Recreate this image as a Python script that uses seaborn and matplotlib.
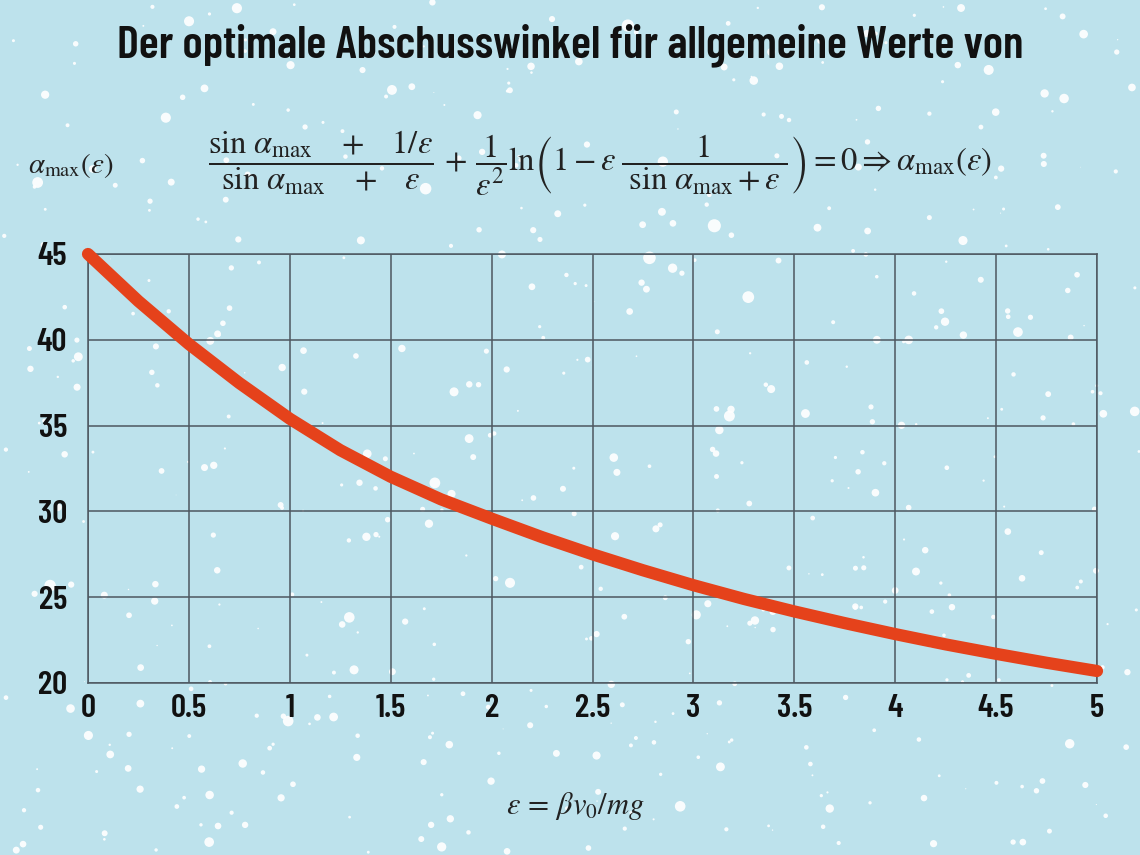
import numpy as np
import pandas as pd
import seaborn as sns
import matplotlib.pyplot as plt

# values
epsilon = [0, 0.25, 0.5, 0.75, 1.0, 1.25, 1.5, 1.75, 2.0, 2.25, 2.5,
           2.75, 3.0, 3.25, 3.5, 3.75, 4.0, 4.25, 4.5, 4.75, 5.0]
alpha_max = [45.0, 42.25, 39.75, 37.48, 35.4, 33.57, 32.02, 30.7, 29.58, 28.5, 27.5,
             26.57, 25.7, 24.9, 24.17, 23.49, 22.85, 22.25, 21.7, 21.18, 20.7]
x_ticks = [0, 0.5, 1, 1.5, 2, 2.5, 3, 3.5, 4, 4.5, 5]
x_tick_labels = ['0', '0.5', '1', '1.5', '2', '2.5', '3', '3.5', '4', '4.5', '5']
y_ticks = [20, 25, 30, 35, 40, 45]

df = pd.DataFrame({'eps': epsilon, 'alpha': alpha_max})

bg = '#bde2ec'
grid_col = '#4d5760'
curve_col = '#e5421b'
cond = ['Barlow Condensed', 'Oswald', 'Open Sans Condensed', 'DejaVu Sans']

sns.set_style('white')
plt.rcParams['mathtext.fontset'] = 'stix'
plt.rcParams['font.family'] = cond

fig = plt.figure(figsize=(11.4, 8.55), dpi=100)
fig.patch.set_facecolor(bg)

# decorative snow backdrop
bg_ax = fig.add_axes([0, 0, 1, 1], zorder=0)
bg_ax.set_facecolor(bg)
bg_ax.set_xlim(0, 1)
bg_ax.set_ylim(0, 1)
bg_ax.axis('off')
rng = np.random.default_rng(7)
n_snow = 560
sx = rng.uniform(0, 1, n_snow)
sy = rng.uniform(0, 1, n_snow)
ss = rng.gamma(1.4, 11.0, n_snow)
bg_ax.scatter(sx, sy, s=ss, color='white', alpha=0.92, linewidths=0)

ax = fig.add_axes([88 / 1140, 1 - 683 / 855, (1097 - 88) / 1140, (683 - 254) / 855], zorder=1)
ax.set_facecolor('none')

sns.lineplot(data=df, x='eps', y='alpha', ax=ax, color=curve_col, linewidth=8.8,
             solid_capstyle='round', solid_joinstyle='round', clip_on=False, zorder=5)

ax.set_xlim(0, 5)
ax.set_ylim(20, 45)
ax.set_xticks(x_ticks)
ax.set_xticklabels(x_tick_labels)
ax.set_yticks(y_ticks)
ax.grid(True, color=grid_col, linewidth=1.1)
for sp in ax.spines.values():
    sp.set_visible(True)
    sp.set_color(grid_col)
    sp.set_linewidth(1.1)
ax.tick_params(length=0, labelsize=24, pad=15, colors='#111111')
ax.tick_params(axis='x', pad=8)
for lbl in ax.get_xticklabels() + ax.get_yticklabels():
    lbl.set_fontweight('semibold')
ax.set_xlabel('')
ax.set_ylabel('')

fig.text(0.5, 0.947, 'Der optimale Abschusswinkel für allgemeine Werte von',
         ha='center', va='center', fontsize=33.5, fontweight='semibold', color='#111111')

fig.text(28 / 1140, 1 - 166 / 855, r'$\alpha_{\mathrm{max}}(\varepsilon)$',
         ha='left', va='center', fontsize=21, color='#222222')

formula = (r'$\dfrac{\sin\,\alpha_{\mathrm{max}}\quad+\quad 1/\varepsilon}'
           r'{\sin\,\alpha_{\mathrm{max}}\quad+\quad\varepsilon}'
           r'\,+\,\dfrac{1}{\varepsilon^2}\mathrm{ln}\left(1-\varepsilon\;'
           r'\dfrac{1}{\;\sin\,\alpha_{\mathrm{max}}+\varepsilon\;}\right)'
           r'=0\Rightarrow\alpha_{\mathrm{max}}(\varepsilon)$')
fig.text(208 / 1140, 1 - 163 / 855, formula, ha='left', va='center',
         fontsize=23.5, color='#222222')

fig.text(575 / 1140, 1 - 806 / 855, r'$\varepsilon\,=\,\beta v_0/mg$',
         ha='center', va='center', fontsize=22, color='#222222')

fig.savefig('out.png', dpi=100, facecolor=bg)
